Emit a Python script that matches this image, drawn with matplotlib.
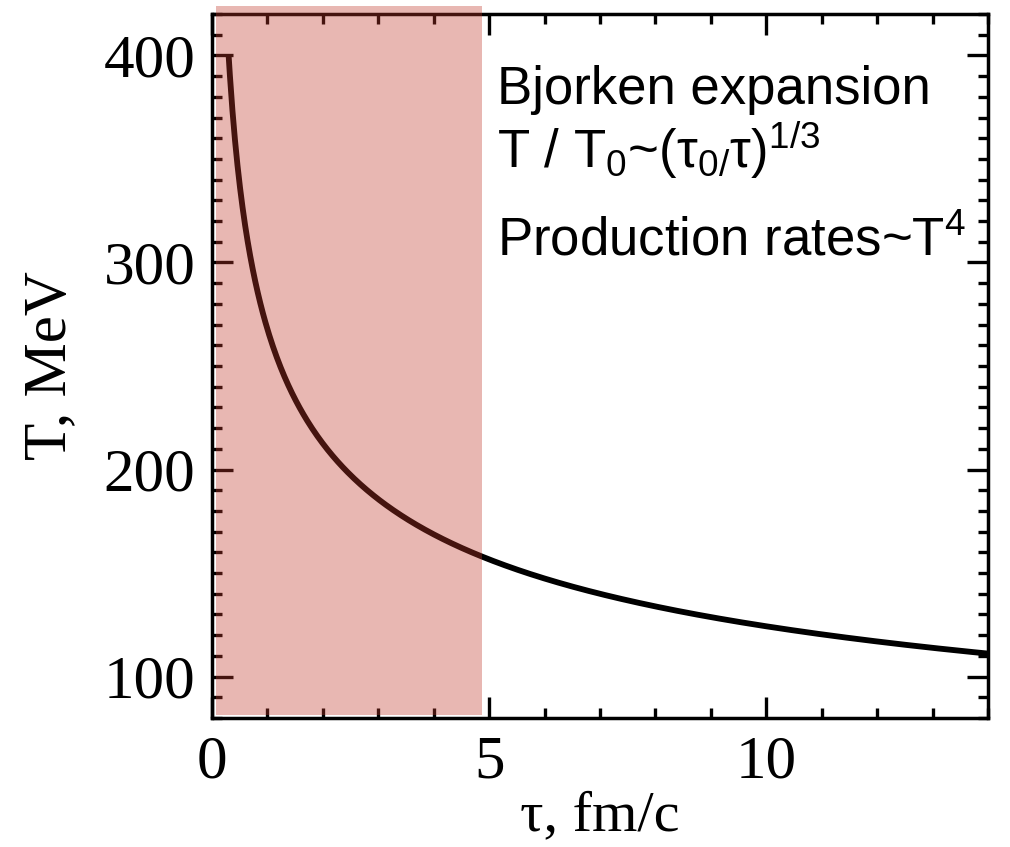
import numpy as np
import matplotlib
matplotlib.use("Agg")
import matplotlib.pyplot as plt
from matplotlib.ticker import MultipleLocator

# Bjorken cooling: T = T0 * (tau0 / tau)^(1/3)
T0 = 400.0        # MeV, initial temperature
TAU0 = 0.3        # fm/c, initial proper time
TAU_END = 14.0    # fm/c
shade_span = [0.07, 4.88]   # fm/c, early high-temperature stage

x_ticks = [0, 5, 10]
y_ticks = [100, 200, 300, 400]

annot_lines = [
    "Bjorken expansion",
    r"T / T$_0$~(τ$_{0/}$τ)$^{1/3}$",
    r"Production rates~T$^4$",
]

plt.rcParams["mathtext.fontset"] = "custom"
plt.rcParams["mathtext.rm"] = "Liberation Sans"
plt.rcParams["mathtext.it"] = "Liberation Sans"
plt.rcParams["mathtext.default"] = "regular"

tau = np.linspace(TAU0, TAU_END, 600)
temp = T0 * (TAU0 / tau) ** (1.0 / 3.0)

fig = plt.figure(figsize=(10.10, 8.47), dpi=100)
ax = fig.add_axes([212 / 1010, 1 - 718 / 847, 776 / 1010, 704 / 847])

ax.plot(tau, temp, color="black", lw=4.2, solid_capstyle="butt", zorder=3)

ax.axvspan(shade_span[0], shade_span[1], ymin=0.004, ymax=1.0114,
           color="#c0392b", alpha=0.36, lw=0, zorder=5, clip_on=False)

ax.set_xlim(0, 14)
ax.set_ylim(80, 420)
ax.set_xticks(x_ticks)
ax.set_yticks(y_ticks)
ax.xaxis.set_minor_locator(MultipleLocator(1))
ax.yaxis.set_minor_locator(MultipleLocator(10))

serif = "Liberation Serif"
for lab in ax.get_xticklabels() + ax.get_yticklabels():
    lab.set_fontfamily(serif)
    lab.set_fontsize(44)

ax.tick_params(which="both", direction="in", top=True, right=True,
               width=2.4, color="black")
ax.tick_params(which="major", length=15)
ax.tick_params(which="minor", length=7.5)
ax.tick_params(axis="y", which="major", pad=12)
ax.tick_params(axis="x", which="major", pad=12)

for sp in ax.spines.values():
    sp.set_linewidth(2.5)
    sp.set_zorder(4)

ax.set_xlabel("τ, fm/c", fontfamily=serif, fontsize=42, labelpad=0)
ax.set_ylabel("T, MeV", fontfamily=serif, fontsize=44, labelpad=18)

baselines = [104, 168, 255]
for txt, yb in zip(annot_lines, baselines):
    fig.text(497 / 1010, 1 - yb / 847, txt, fontfamily="Liberation Sans",
             fontsize=38, va="baseline", ha="left", color="black")

fig.savefig("out.png", dpi=100)
